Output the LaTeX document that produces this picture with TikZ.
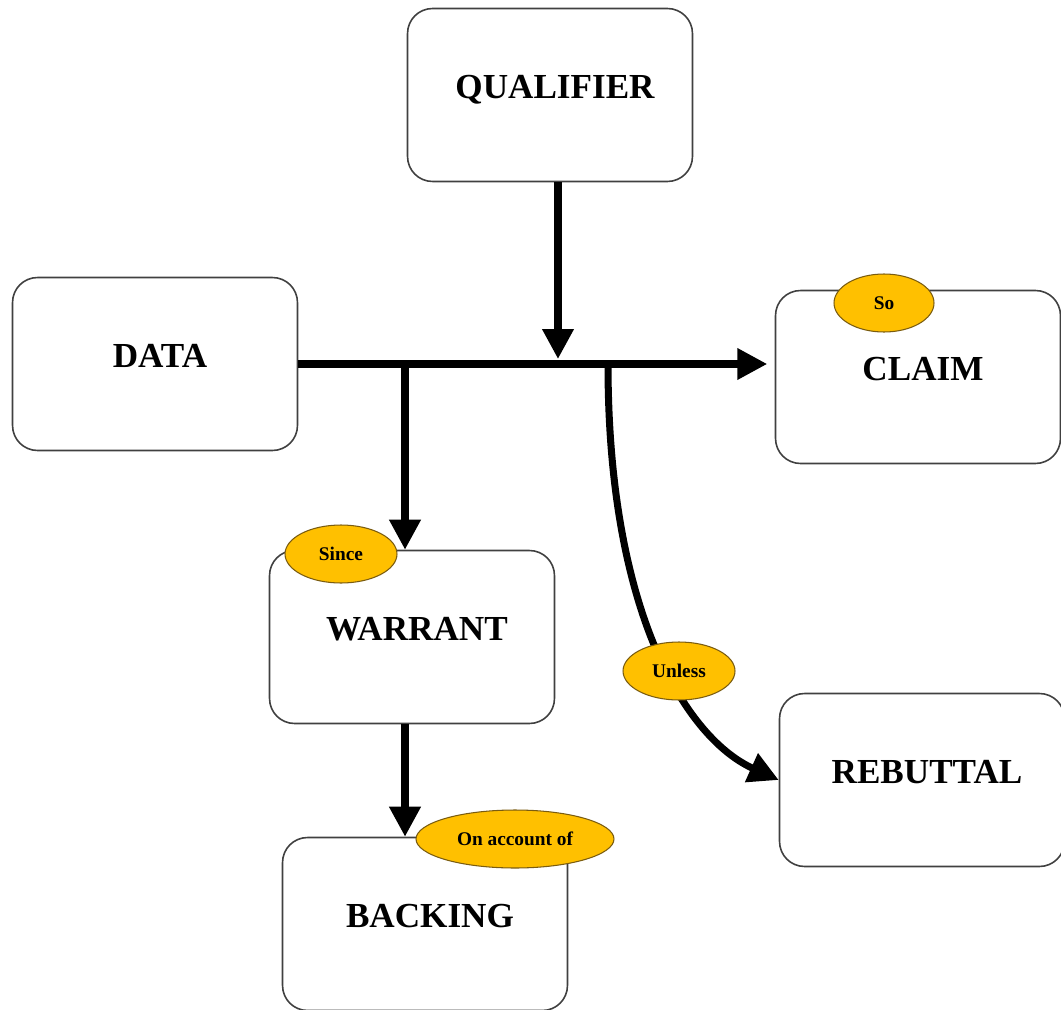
\documentclass[tikz,border=0pt]{standalone}
\usepackage{fontspec}
\setmainfont{Liberation Serif}
\usetikzlibrary{positioning, shapes.geometric, arrows.meta}
\definecolor{keyfill}{HTML}{FFC000}
\definecolor{keyline}{HTML}{7A5C10}
\definecolor{boxline}{HTML}{404040}

\begin{document}
\begin{tikzpicture}[x=0.02cm, y=-0.02cm, >={Triangle[length=0.6cm,width=0.6cm]},
    argbox/.style={draw=boxline, line width=0.9pt, rounded corners=0.5cm, fill=white,
      minimum width=5.7cm, minimum height=3.46cm, text height=0.5cm, text depth=0.36cm,
      font=\fontsize{20}{24}\selectfont\bfseries, execute at begin node={\hspace*{0.2cm}}},
    keyword/.style={draw=keyline, fill=keyfill, ellipse, line width=0.6pt, inner sep=0pt,
      minimum height=1.16cm, font=\fontsize{11}{13}\selectfont\bfseries},
    link/.style={line width=4pt}]
      \useasboundingbox (0,0) rectangle (1061,1010);

      % Boxes of the argument
      \node[argbox] (qualifier) at (550,95) {QUALIFIER};
      \node[argbox] (data) at (155,364) {DATA};
      \node[argbox] (claim) at (918,377) {CLAIM};
      \node[argbox] (warrant) at (412,637) {WARRANT};
      \node[argbox] (backing) at (425,924) {BACKING};
      \node[argbox] (rebuttal) at (922,780) {REBUTTAL};

      % Junctions on the main line
      \coordinate (jw) at (405,364);
      \coordinate (jq) at (558,364);
      \coordinate (jr) at (608,364);

      % Connections
      \draw[link,->,shorten >=0.15cm] (data.east) -- (data -| claim.west);
      \draw[link,->] (qualifier.south -| jq) -- ([yshift=0.1cm]jq);
      \draw[link,->] (jw) -- (jw |- warrant.north);
      \draw[link,->] (warrant.south -| jw) -- (jw |- backing.north);
      \draw[link,->] (jr) .. controls (608,620) and (690,740) .. (rebuttal.west);

      % Keywords
      \node[keyword, minimum width=2cm] (so) at (884,303) {So};
      \node[keyword, minimum width=2.24cm] (since) at (341,554) {Since};
      \node[keyword, minimum width=2.24cm] (unless) at (679,671) {Unless};
      \node[keyword, minimum width=3.96cm] (account) at (515,839) {On account of};
\end{tikzpicture}
\end{document}
